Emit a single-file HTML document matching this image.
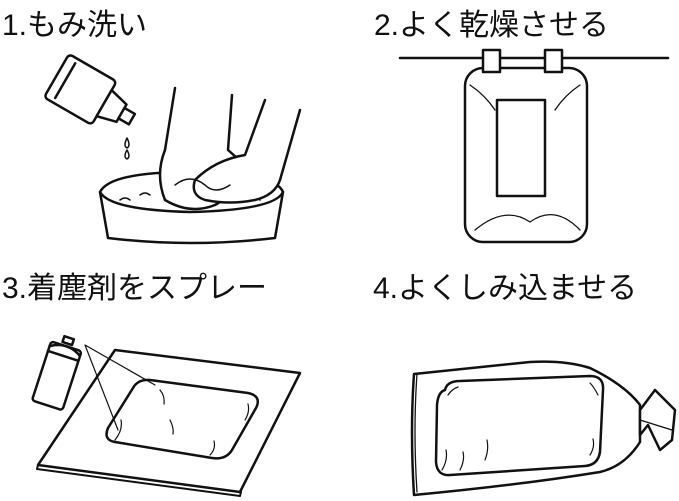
<!DOCTYPE html>
<html><head><meta charset="utf-8"><style>
body{margin:0;background:#fff;width:679px;height:501px;overflow:hidden}
svg{display:block}
text{font-family:"Liberation Sans","Noto Sans CJK JP",sans-serif;fill:#111}
</style></head><body>
<svg width="679" height="501" viewBox="0 0 679 501" fill="none" stroke="#111" stroke-width="2.5" stroke-linejoin="round" stroke-linecap="round">
<g stroke="none">
<text x="2" y="35" font-size="30">1.もみ洗い</text>
<text x="374" y="35" font-size="30">2.よく乾燥させる</text>
<text x="2" y="298" font-size="30">3.着塵剤をスプレー</text>
<text x="373" y="298" font-size="30">4.よくしみ込ませる</text>
</g>
<!-- Q1 bottle -->
<g transform="rotate(30 80 95)">
<rect x="50" y="65" width="55" height="50" rx="4" fill="#fff"/>
<path d="M105 75 L125 80 L125 100 L105 105 Z" fill="#fff"/>
<rect x="125" y="84" width="12" height="12" fill="#fff"/>
<line x1="60" y1="70" x2="60" y2="110"/>
</g>
<path d="M127 138 q-4 8 0 10 q4 -2 0 -10Z M127 150 q-4 7 0 9 q4 -2 0 -9Z" stroke-width="1.5"/>
<!-- bucket -->
<path d="M100 192 L108 238 Q190 248 275 238 L283 192"/>
<path d="M100 192 Q110 172 190 172 Q275 172 283 192 Q275 210 190 212 Q110 210 100 192Z"/>
<path d="M120 200 q5-4 10 0 m10-5 q5-4 10 0 m100 5 q5-4 10 0 m-20 -8 q5-4 10 0" stroke-width="1.5"/>
<!-- hands -->
<path d="M175 88 L165 150 Q155 175 165 200 Q190 215 215 205 L240 190 Q255 180 245 165 L228 150 L232 95" fill="#fff"/>
<path d="M265 100 L245 155 Q215 160 195 180 Q190 195 205 200 Q230 205 255 200 Q275 195 280 180 L300 110" fill="#fff"/>
<path d="M175 185 q15 -12 30 0 q10 10 25 0" stroke-width="1.5"/>
<!-- Q2 -->
<line x1="400" y1="58" x2="668" y2="58"/>
<rect x="465" y="68" width="122" height="174" rx="18" fill="#fff"/>
<rect x="497" y="100" width="48" height="96" fill="#fff"/>
<rect x="483" y="50" width="17" height="22" fill="#fff"/>
<rect x="545" y="50" width="17" height="22" fill="#fff"/>
<path d="M475 230 q30-25 55 -8 q25 -18 50 8 M470 85 q15 10 25 25 M580 85 q-15 10 -25 25" stroke-width="1.3"/>
<!-- Q3 sheet -->
<path d="M115 350 L300 373 L240 492 L38 465 Z" fill="#fff"/>
<path d="M38 465 L37 469 L240 496 L241 492" stroke-width="2"/>
<path d="M150 380 L248 393 Q262 396 256 408 L232 450 Q226 460 212 458 L115 442 Q103 440 108 428 L133 388 Q138 379 150 380Z" fill="#fff"/>
<path d="M115 440 q8-10 6-20 M245 420 q5-8 3-16 M160 390 q5 6 4 14 M170 420 q4 8 3 14 M210 455 q6-6 4-14" stroke-width="1.2"/>
<g transform="rotate(18 58 372)">
<rect x="42" y="345" width="32" height="62" rx="3" fill="#fff"/>
<path d="M42 350 q16 -10 32 0 M53 336 h10 v6 h-10z M42 355 h32"/>
</g>
<path d="M85 345 L155 385 M85 345 L118 430" stroke-width="1.2"/>
<!-- Q4 -->
<path d="M414 374 Q410 430 414 495 Q520 485 600 472 Q625 466 640 442 L640 405 Q625 385 590 368 Q565 360 530 362 L414 374Z" fill="#fff"/>
<path d="M417 374 Q413 430 417 492" stroke-width="1.3"/>
<path d="M445 390 Q447 381 460 381 L590 376 Q604 376 603 390 L600 452 Q598 465 585 466 L450 475 Q437 476 436 462 L437 405 Q438 392 445 390Z" fill="#fff"/>
<path d="M640 410 L655 390 L675 410 L672 440 L660 450 L648 425 L640 435 Z" fill="#fff"/>
<path d="M640 420 L672 430" stroke-width="1.3"/>
<path d="M442 470 q6-10 4-20 M460 470 q5-10 3-18 M485 460 q4-10 2-20 M590 455 q5-8 3-16 M598 395 q-4-8-8-12 M448 395 q4-6 10-8" stroke-width="1.2"/>
</svg>
</body></html>
